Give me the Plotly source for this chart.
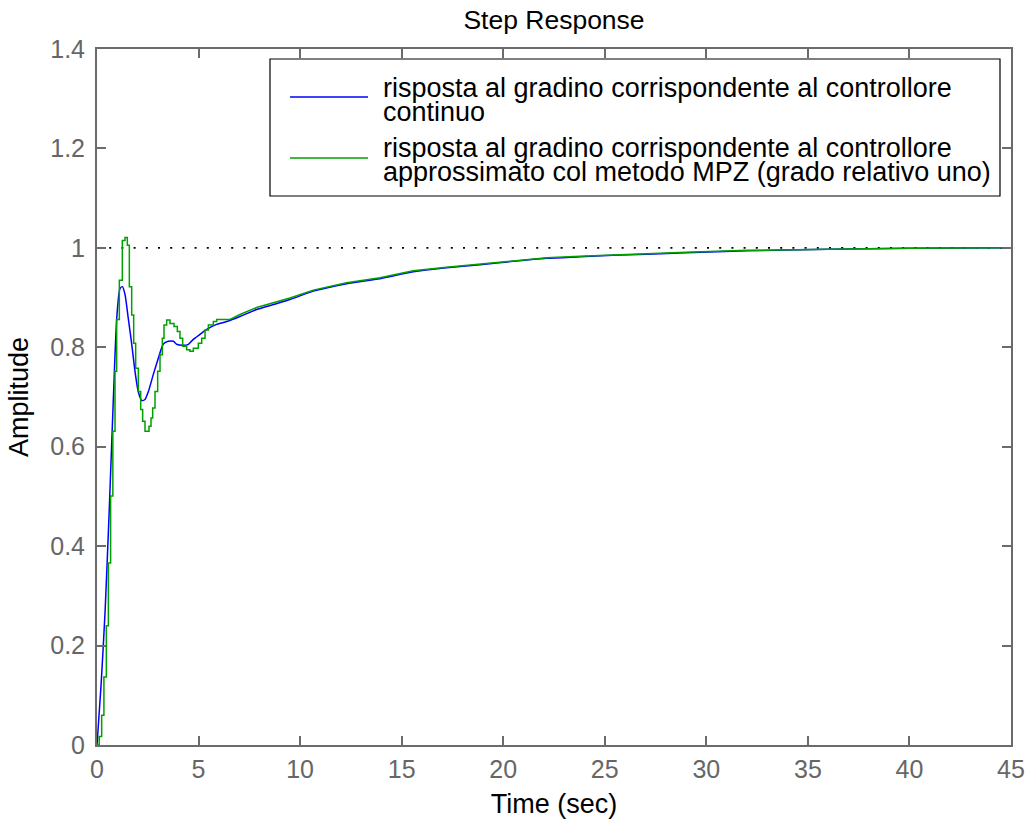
import plotly.graph_objects as go

# ---------------- data ----------------
blue_t = [0, 0.2, 0.4, 0.6, 0.8, 0.97, 1.13, 1.25, 1.38, 1.54, 1.71, 1.87, 2.03, 2.2, 2.36,
          2.53, 2.77, 3.02, 3.26, 3.51, 3.76, 3.92, 4.25, 4.5, 4.74, 5.07, 5.4, 5.89, 6.39,
          7.04, 7.86, 8.68, 9.5, 10.65, 12.29, 13.93, 15.57, 17.2, 18.86, 20.5, 22.14,
          23.78, 25.4, 27.07, 29, 32, 36, 40, 45]
blue_y = [0, 0.12, 0.27, 0.47, 0.691, 0.858, 0.918, 0.922, 0.906, 0.858, 0.806, 0.752, 0.711,
          0.693, 0.695, 0.711, 0.745, 0.778, 0.806, 0.812, 0.812, 0.806, 0.804, 0.806, 0.816,
          0.826, 0.836, 0.846, 0.852, 0.862, 0.876, 0.886, 0.896, 0.913, 0.928, 0.938, 0.952,
          0.960, 0.966, 0.973, 0.979, 0.982, 0.985, 0.987, 0.990, 0.994, 0.997, 0.999, 1.0]

# MPZ discretised controller: staircase part (zero-order hold samples)
green_step_t = [0, 0.11, 0.23, 0.34, 0.46, 0.56, 0.67, 0.78, 0.886, 0.968, 1.10, 1.247, 1.379,
                1.494, 1.592, 1.707, 1.806, 1.904, 2.035, 2.150, 2.248, 2.363, 2.560, 2.659,
                2.741, 2.856, 2.987, 3.102, 3.217, 3.299, 3.430, 3.594, 3.791, 3.955, 4.087,
                4.218, 4.415, 4.579, 4.743, 4.989, 5.154, 5.318, 5.482, 5.728, 5.892, 6.55]
green_step_y = [0, 0.017, 0.060, 0.137, 0.240, 0.366, 0.501, 0.631, 0.752, 0.856, 0.935, 1.015,
                1.021, 1.005, 0.922, 0.865, 0.808, 0.758, 0.711, 0.675, 0.651, 0.631, 0.641,
                0.658, 0.678, 0.711, 0.752, 0.785, 0.818, 0.845, 0.855, 0.848, 0.842, 0.832,
                0.818, 0.802, 0.795, 0.792, 0.798, 0.808, 0.818, 0.835, 0.845, 0.852, 0.856,
                0.856]
# MPZ response afterwards (almost coincident with the continuous one)
green_tail_t = [6.55, 7.04, 7.86, 8.68, 9.5, 10.65, 12.29, 13.93, 15.57, 17.2, 18.86, 20.5,
                22.14, 23.78, 25.4, 27.07, 29, 32, 36, 40, 45]
green_tail_y = [0.856, 0.866, 0.880, 0.890, 0.899, 0.915, 0.930, 0.940, 0.954, 0.961, 0.967,
                0.974, 0.980, 0.983, 0.986, 0.988, 0.991, 0.995, 0.997, 0.999, 1.0]

ref_t = [0, 45]
ref_y = [1, 1]

name_blue = "risposta al gradino corrispondente al controllore<br>continuo"
name_green = "risposta al gradino corrispondente al controllore<br>approssimato col metodo MPZ (grado relativo uno)"
legend_lines_blue = ["risposta al gradino corrispondente al controllore", "continuo"]
legend_lines_green = ["risposta al gradino corrispondente al controllore",
                      "approssimato col metodo MPZ (grado relativo uno)"]

x_ticks = [0, 5, 10, 15, 20, 25, 30, 35, 40, 45]
y_ticks = [0, 0.2, 0.4, 0.6, 0.8, 1, 1.2, 1.4]
y_tick_text = ["0", "0.2", "0.4", "0.6", "0.8", "1", "1.2", "1.4"]

# ---------------- layout constants ----------------
W, H = 1028, 823
L, R, T, B = 97, 17, 49, 78
PW, PH = W - L - R, H - T - B
BLUE = "#0000ff"
GREEN = "#00a000"
AXIS = "#6b6b6b"
FONT = "Liberation Sans, Arial, Helvetica, sans-serif"


def pxx(px):
    return (px - L) / PW


def pxy(py):
    return (H - B - py) / PH


fig = go.Figure()
fig.add_trace(go.Scatter(x=ref_t, y=ref_y, mode="lines", showlegend=False, hoverinfo="skip",
                         line=dict(color="black", width=1.6, dash="2px,10.2px")))
fig.add_trace(go.Scatter(x=blue_t, y=blue_y, mode="lines", name=name_blue, showlegend=False,
                         line=dict(color=BLUE, width=1.5, shape="spline", smoothing=0.6)))
fig.add_trace(go.Scatter(x=green_step_t, y=green_step_y, mode="lines", name=name_green,
                         showlegend=False, line=dict(color=GREEN, width=1.5, shape="hv")))
fig.add_trace(go.Scatter(x=green_tail_t, y=green_tail_y, mode="lines", name=name_green,
                         showlegend=False, line=dict(color=GREEN, width=1.5)))

# ---------------- legend (MATLAB style) ----------------
shapes = [
    dict(type="rect", xref="paper", yref="paper", x0=pxx(270), x1=pxx(1000), y0=pxy(196),
         y1=pxy(59), line=dict(color="black", width=1.2), fillcolor="white", layer="above"),
    dict(type="line", xref="paper", yref="paper", x0=pxx(290), x1=pxx(368), y0=pxy(97),
         y1=pxy(97), line=dict(color=BLUE, width=1.5), layer="above"),
    dict(type="line", xref="paper", yref="paper", x0=pxx(290), x1=pxx(368), y0=pxy(158),
         y1=pxy(158), line=dict(color=GREEN, width=1.5), layer="above"),
]
annotations = []
for txt, yc in zip(legend_lines_blue + legend_lines_green, [88, 112, 148, 172]):
    annotations.append(dict(text=txt, xref="paper", yref="paper", x=pxx(381), y=pxy(yc),
                            xanchor="left", yanchor="middle", showarrow=False,
                            font=dict(family=FONT, size=27, color="black")))

fig.update_layout(
    width=W, height=H,
    margin=dict(l=L, r=R, t=T, b=B, autoexpand=False),
    paper_bgcolor="white", plot_bgcolor="white",
    font=dict(family=FONT, color="black"),
    title=dict(text="Step Response", x=0.5, xref="paper", xanchor="center",
               y=1 - 20 / H, yref="container", yanchor="middle",
               font=dict(family=FONT, size=26.5, color="black")),
    shapes=shapes, annotations=annotations,
    showlegend=False,
)
fig.update_xaxes(
    range=[0, 45], tickvals=x_ticks, ticktext=[str(v) for v in x_ticks],
    showgrid=False, zeroline=False, showline=True, linecolor=AXIS, linewidth=2,
    mirror="ticks", ticks="inside", ticklen=9, tickwidth=1.5, tickcolor=AXIS,
    tickfont=dict(family=FONT, size=25, color="#666666"), ticklabelstandoff=1,
    automargin=False,
    title=dict(text="Time (sec)", font=dict(family=FONT, size=27, color="black"), standoff=12),
)
fig.update_yaxes(
    range=[0, 1.4], tickvals=y_ticks, ticktext=y_tick_text,
    showgrid=False, zeroline=False, showline=True, linecolor=AXIS, linewidth=2,
    mirror="ticks", ticks="inside", ticklen=9, tickwidth=1.5, tickcolor=AXIS,
    tickfont=dict(family=FONT, size=25, color="#666666"), ticklabelstandoff=5,
    automargin=False,
    title=dict(text="Amplitude", font=dict(family=FONT, size=27, color="black"), standoff=14),
)

# remove the default 8px page margin so the figure fills the window exactly
fig.write_html("out.html", config={"displayModeBar": False},
               post_script="document.body.style.margin='0';")
